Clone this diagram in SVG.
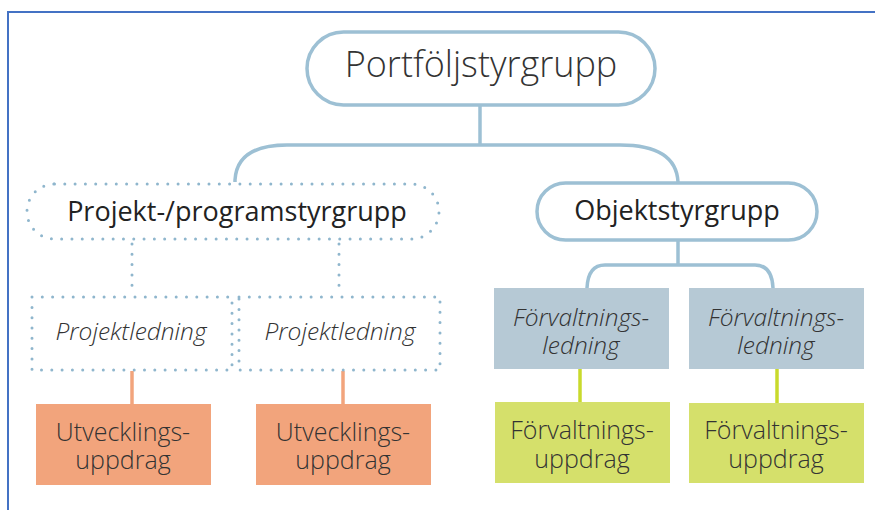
<svg xmlns="http://www.w3.org/2000/svg" width="875" height="510" viewBox="0 0 875 510">
<style>
  text { font-family: "Open Sans", "Liberation Sans", sans-serif; fill: #333; text-anchor: middle; }
  .pill { fill: #fff; stroke: #9dc0d4; stroke-width: 3.5; }
  .dot { fill: none; stroke: #8fb6cd; stroke-width: 3; stroke-linecap: round; stroke-dasharray: 0 10.3; }
  .conn { fill: none; stroke: #9dc0d4; stroke-width: 3.5; }
  .lead { fill: #b6c9d5; }
  .green { fill: #d5e06b; }
  .orange { fill: #f2a47c; }
  .big { font-size: 36px; font-weight: 300; }
  .mid { font-size: 27px; font-weight: 400; fill: #222; }
  .it { font-size: 24.5px; font-weight: 300; font-style: italic; }
  .bx { font-size: 25px; font-weight: 300; }
</style>
<rect x="0" y="0" width="875" height="510" fill="#fff"/>
<rect x="8" y="12" width="900" height="520" fill="none" stroke="#4472c4" stroke-width="2"/>

<g id="connectors">
  <path class="conn" d="M480 105 V145"/>
  <path class="conn" d="M235 182 V180 Q237 145 287 145 H620 Q676 145 678 182"/>
  <path class="conn" d="M678 240 V265"/>
  <path class="conn" d="M587 288 Q588 265 605 265 H755 Q772 265 773 288"/>
  <path class="dot" d="M132 244 V286"/>
  <path class="dot" d="M339 244 V286"/>
  <path d="M132 371 V404" stroke="#f2a47c" stroke-width="3.5" fill="none"/>
  <path d="M343 371 V404" stroke="#f2a47c" stroke-width="3.5" fill="none"/>
  <path d="M580 369 V402" stroke="#c9da2c" stroke-width="3.5" fill="none"/>
  <path d="M777 369 V403" stroke="#c9da2c" stroke-width="3.5" fill="none"/>
</g>

<g id="portfolj">
  <rect class="pill" x="307" y="32" width="348" height="73" rx="36.5"/>
  <text class="big" x="481" y="77">Portföljstyrgrupp</text>
</g>

<g id="projektstyrgrupp">
  <rect class="dot" x="27" y="184" width="412" height="55" rx="27.5"/>
  <text class="mid" x="237" y="221">Projekt-/programstyrgrupp</text>
</g>

<g id="objektstyrgrupp">
  <rect class="pill" x="537" y="183" width="280" height="57" rx="28.5"/>
  <text class="mid" x="677" y="220">Objektstyrgrupp</text>
</g>

<g id="projektledning1">
  <rect class="dot" x="32" y="297" width="200" height="73"/>
  <text class="it" x="131" y="340">Projektledning</text>
</g>
<g id="projektledning2">
  <rect class="dot" x="239" y="297" width="201" height="73"/>
  <text class="it" x="340" y="340">Projektledning</text>
</g>

<g id="utveckling1">
  <rect class="orange" x="36" y="404" width="175" height="81"/>
  <text class="bx" x="123" y="441">Utvecklings-</text>
  <text class="bx" x="123" y="469">uppdrag</text>
</g>
<g id="utveckling2">
  <rect class="orange" x="256" y="404" width="175" height="81"/>
  <text class="bx" x="343" y="441">Utvecklings-</text>
  <text class="bx" x="343" y="469">uppdrag</text>
</g>

<g id="forvaltningsledning1">
  <rect class="lead" x="494" y="288" width="175" height="81"/>
  <text class="it" x="581" y="326">Förvaltnings-</text>
  <text class="it" x="581" y="354">ledning</text>
</g>
<g id="forvaltningsledning2">
  <rect class="lead" x="689" y="288" width="175" height="81"/>
  <text class="it" x="776" y="326">Förvaltnings-</text>
  <text class="it" x="776" y="354">ledning</text>
</g>

<g id="forvaltningsuppdrag1">
  <rect class="green" x="495" y="402" width="175" height="81"/>
  <text class="bx" x="582" y="439">Förvaltnings-</text>
  <text class="bx" x="582" y="468">uppdrag</text>
</g>
<g id="forvaltningsuppdrag2">
  <rect class="green" x="689" y="403" width="175" height="80"/>
  <text class="bx" x="776" y="439">Förvaltnings-</text>
  <text class="bx" x="776" y="468">uppdrag</text>
</g>
</svg>
